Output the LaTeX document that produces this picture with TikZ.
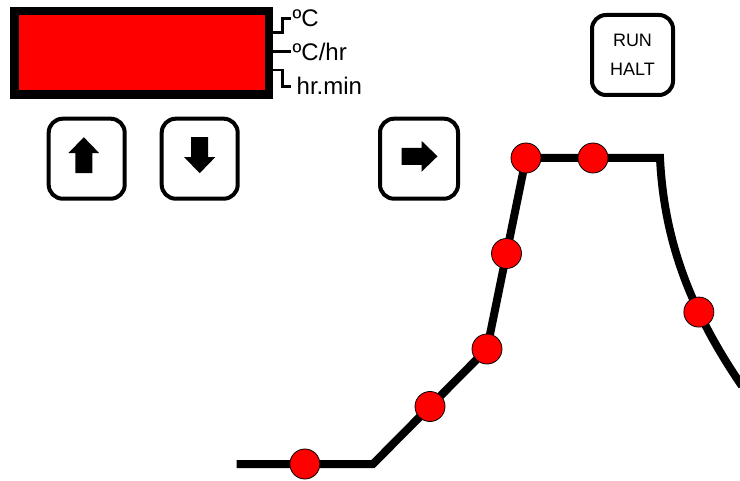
\documentclass[tikz,border=0pt]{standalone}
\usepackage{fontspec}
\setmainfont{Liberation Sans}
\usepackage{xcolor}

\tikzset{
  key/.style={draw, line width=4pt, rounded corners=14pt, minimum width=76pt, minimum height=80pt, inner sep=0pt},
  lead/.style={line width=2.7pt},
  lbl/.style={anchor=west, inner xsep=1.5pt, inner ysep=0pt, text height=17pt, text depth=0pt, font=\fontsize{24}{28}\selectfont},
  trace/.style={line width=8pt},
  dot/.style={circle, draw, line width=0.8pt, fill=red, minimum size=30pt, inner sep=0pt},
  keyarrow/.pic={\fill (0,-21.5) -- (15.5,-5.5) -- (8.5,-5.5) -- (8.5,14.5) -- (-8.5,14.5) -- (-8.5,-5.5) -- (-15.5,-5.5) -- cycle;}
}

\begin{document}
\begin{tikzpicture}[x=1pt, y=-1pt]
  \useasboundingbox (0,0) rectangle (740,481);
  \node[draw, line width=8.5pt, fill=red, minimum width=254.5pt, minimum height=83.5pt, inner sep=0pt] (disp) at (141.75,52.75) {};
  \node[lbl] (degc) at (291,18.5) {ºC};
  \node[lbl] (rate) at (291,51.7) {ºC/hr};
  \node[lbl, inner xsep=5.5pt] (time) at (291,86.5) {hr.min};
  \draw[lead] ([yshift=20.45pt]disp.east) -- ++(9.5,0) |- (degc.west);
  \draw[lead] (disp.east |- rate.west) -- (rate.west);
  \draw[lead] ([yshift=-17.25pt]disp.east) -- ++(9.5,0) |- (time.west);

  \node[key] (up) at (86.7,158.7) {};
  \node[key] (down) at (199.7,158.7) {};
  \node[key, minimum width=78pt] (fwd) at (419,158.7) {};
  \node[key, minimum width=81pt, align=center, font=\fontsize{18}{29}\selectfont] (run) at (632.5,55) {RUN\\HALT};
  \pic at ([xshift=-2.9pt]up.center) {keyarrow};
  \pic[rotate=180] at ([yshift=7pt]down.center) {keyarrow};
  \pic[rotate=-90] at ([xshift=-3pt, yshift=2.4pt]fwd.center) {keyarrow};

  \draw[trace] (236.7,464) coordinate (lo) -- node[dot] (d1) {} (373,464) coordinate (knee)
    -- node[dot] (d2) {} (487,349) node[dot] (d3) {}
    -- node[dot] (d4) {} (526,158) node[dot] (d5) {}
    -- node[dot] (d6) {} (660,158) coordinate (brk)
    .. controls (664,240) and (690,310) .. node[dot, pos=.67] (d7) {} (742,386) coordinate (cool);
\end{tikzpicture}
\end{document}
